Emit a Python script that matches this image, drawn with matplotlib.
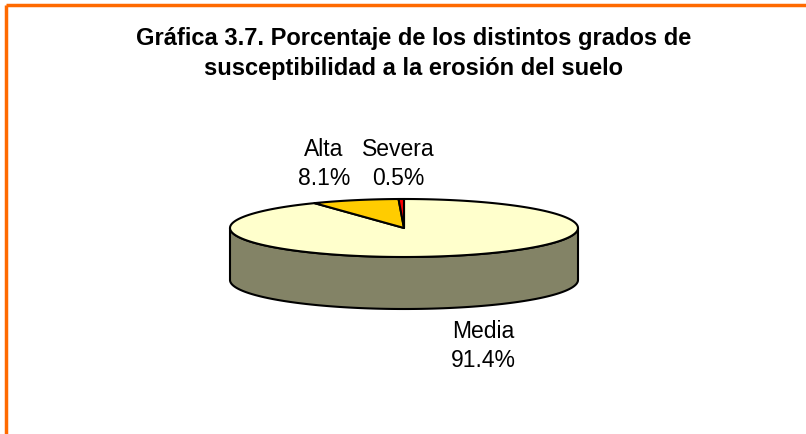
import numpy as np
import matplotlib
matplotlib.use("Agg")
import matplotlib.pyplot as plt
from matplotlib.patches import Polygon

categories = ["Media", "Alta", "Severa"]
values = [91.4, 8.1, 0.5]
top_colors = ["#FFFFCC", "#FFCC00", "#FF0000"]
side_colors = ["#838366", "#B38F00", "#B30000"]
title_lines = ["Gráfica 3.7. Porcentaje de los distintos grados de",
               "susceptibilidad a la erosión del suelo"]

plt.rcParams['font.family'] = ['Liberation Sans', 'DejaVu Sans']

W, H = 806, 434
fig = plt.figure(figsize=(W / 100, H / 100), dpi=100)
ax = fig.add_axes([0, 0, 1, 1])
ax.set_xlim(0, W)
ax.set_ylim(H, 0)
ax.axis("off")

cx, cy, a, b, depth = 404, 228, 174, 29, 52

def pt(theta_deg, dy=0.0):
    t = np.deg2rad(theta_deg)
    return cx + a * np.cos(t), cy - b * np.sin(t) + dy

total = sum(values)
starts, ends = [], []
ang = 90.0
for v in values:
    sweep = v / total * 360.0
    starts.append(ang)
    ends.append(ang - sweep)
    ang -= sweep

for s, e, sc in zip(starts, ends, side_colors):
    lo, hi = e, s
    for k in range(-2, 3):
        flo, fhi = 180 + 360 * k, 360 + 360 * k
        l2, h2 = max(lo, flo), min(hi, fhi)
        if h2 > l2:
            th = np.linspace(l2, h2, 200)
            top = [pt(t) for t in th]
            bot = [pt(t, depth) for t in th[::-1]]
            ax.add_patch(Polygon(top + bot, closed=True, facecolor=sc,
                                 edgecolor="black", lw=1.5, joinstyle="round"))

for s, e, tc in zip(starts, ends, top_colors):
    th = np.linspace(s, e, 300)
    poly = [(cx, cy)] + [pt(t) for t in th]
    ax.add_patch(Polygon(poly, closed=True, facecolor=tc, edgecolor="black",
                         lw=1.5, joinstyle="round"))

# labels: (center x, baseline of name, baseline of percentage)
label_pos = {"Media": (483, 338, 367), "Alta": (324, 156, 185), "Severa": (398, 156, 185)}
for c, v in zip(categories, values):
    x, y1, y2 = label_pos[c]
    ax.text(x, y1, c, ha="center", va="baseline", fontsize=16.5, color="black")
    ax.text(x, y2, f"{v:.1f}%", ha="center", va="baseline", fontsize=16.5,
            color="black")

for line, yb in zip(title_lines, [45, 75]):
    ax.text(414, yb, line, ha="center", va="baseline", fontsize=17,
            fontweight="bold")

ax.plot([6, W], [5, 5], color="#FF6A00", lw=2.5, solid_capstyle="butt")
ax.plot([6, 6], [5, H], color="#FF6A00", lw=2.5, solid_capstyle="butt")

fig.savefig("out.png", dpi=100)
